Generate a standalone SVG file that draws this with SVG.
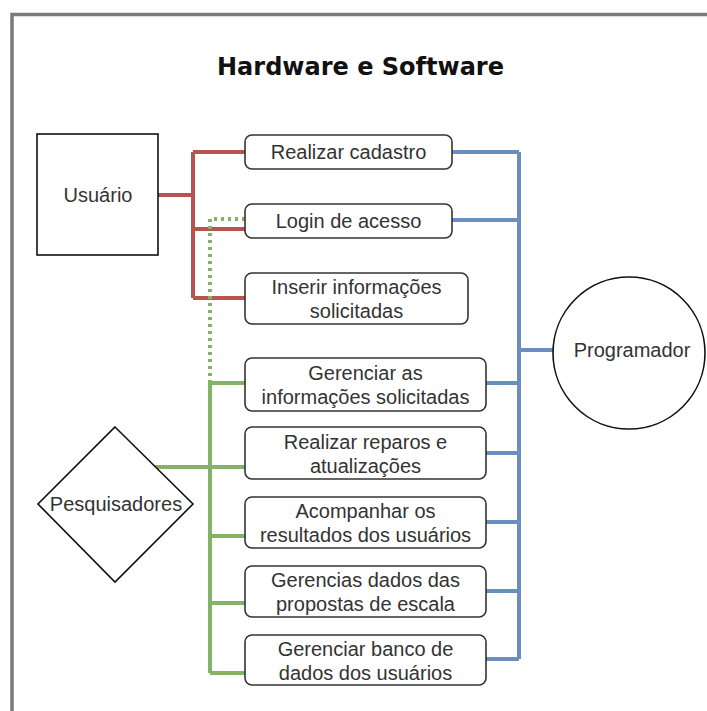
<svg xmlns="http://www.w3.org/2000/svg" width="707" height="711" viewBox="0 0 707 711">
<style>
.t{font-family:"Liberation Sans",Arial,sans-serif;font-size:20px;fill:#333;text-anchor:middle}
.title{font-family:"DejaVu Sans",Verdana,sans-serif;font-weight:bold;font-size:24px;fill:#111;text-anchor:middle}
.box{fill:#fff;stroke:#333;stroke-width:1.6}
.shape{fill:#fff;stroke:#111;stroke-width:1.6}
.red{fill:none;stroke:#b85450;stroke-width:4}
.blue{fill:none;stroke:#6c8ebf;stroke-width:4}
.green{fill:none;stroke:#82b366;stroke-width:4}
.gdot{fill:none;stroke:#82b366;stroke-width:4;stroke-dasharray:3 4}
</style>
<rect x="0" y="0" width="707" height="711" fill="#fff"/>
<path d="M12 711 V14.5 H707" fill="none" stroke="#7a7a7a" stroke-width="3.5"/>
<text class="title" x="360.5" y="75">Hardware e Software</text>
<g id="connectors">
  <path class="red" d="M158 195 H193 M193 152 V298 M193 152 H245 M193 229 H245 M193 298 H245"/>
  <path class="gdot" d="M245 219 H210 V383"/>
  <path class="green" d="M210 383 V673 M210 383 H245 M155 467 H245 M210 536 H245 M210 603 H245 M210 673 H245"/>
  <path class="blue" d="M519 152 V659 M452 152 H519 M452 220 H519 M519 350 H553 M486 383 H519 M486 453 H519 M486 522 H519 M486 591 H519 M486 659 H519"/>
</g>
<g id="usuario">
  <rect class="shape" x="37" y="134" width="121" height="121"/>
  <text class="t" x="98" y="202">Usuário</text>
</g>
<g id="pesquisadores">
  <polygon class="shape" points="115,427 193,504 115,582 38,504"/>
  <text class="t" x="116" y="511">Pesquisadores</text>
</g>
<g id="programador">
  <circle class="shape" cx="629" cy="353" r="76"/>
  <text class="t" x="632" y="357">Programador</text>
</g>
<g id="realizar-cadastro">
  <rect class="box" x="245" y="135" width="207" height="34" rx="7"/>
  <text class="t" x="348.5" y="159">Realizar cadastro</text>
</g>
<g id="login">
  <rect class="box" x="245" y="204" width="207" height="34" rx="7"/>
  <text class="t" x="348.5" y="228">Login de acesso</text>
</g>
<g id="inserir">
  <rect class="box" x="245" y="273" width="223" height="51" rx="7"/>
  <text class="t" x="356.5" y="294">Inserir informações</text>
  <text class="t" x="356.5" y="318">solicitadas</text>
</g>
<g id="gerenciar-info">
  <rect class="box" x="245" y="358" width="241" height="53" rx="7"/>
  <text class="t" x="365.5" y="380">Gerenciar as</text>
  <text class="t" x="365.5" y="404">informações solicitadas</text>
</g>
<g id="reparos">
  <rect class="box" x="245" y="427" width="241" height="52" rx="7"/>
  <text class="t" x="365.5" y="449">Realizar reparos e</text>
  <text class="t" x="365.5" y="473">atualizações</text>
</g>
<g id="acompanhar">
  <rect class="box" x="245" y="497" width="241" height="51" rx="7"/>
  <text class="t" x="365.5" y="518">Acompanhar os</text>
  <text class="t" x="365.5" y="542">resultados dos usuários</text>
</g>
<g id="gerencias-dados">
  <rect class="box" x="245" y="566" width="241" height="51" rx="7"/>
  <text class="t" x="365.5" y="587">Gerencias dados das</text>
  <text class="t" x="365.5" y="611">propostas de escala</text>
</g>
<g id="gerenciar-banco">
  <rect class="box" x="245" y="635" width="241" height="50" rx="7"/>
  <text class="t" x="365.5" y="656">Gerenciar banco de</text>
  <text class="t" x="365.5" y="680">dados dos usuários</text>
</g>
</svg>
